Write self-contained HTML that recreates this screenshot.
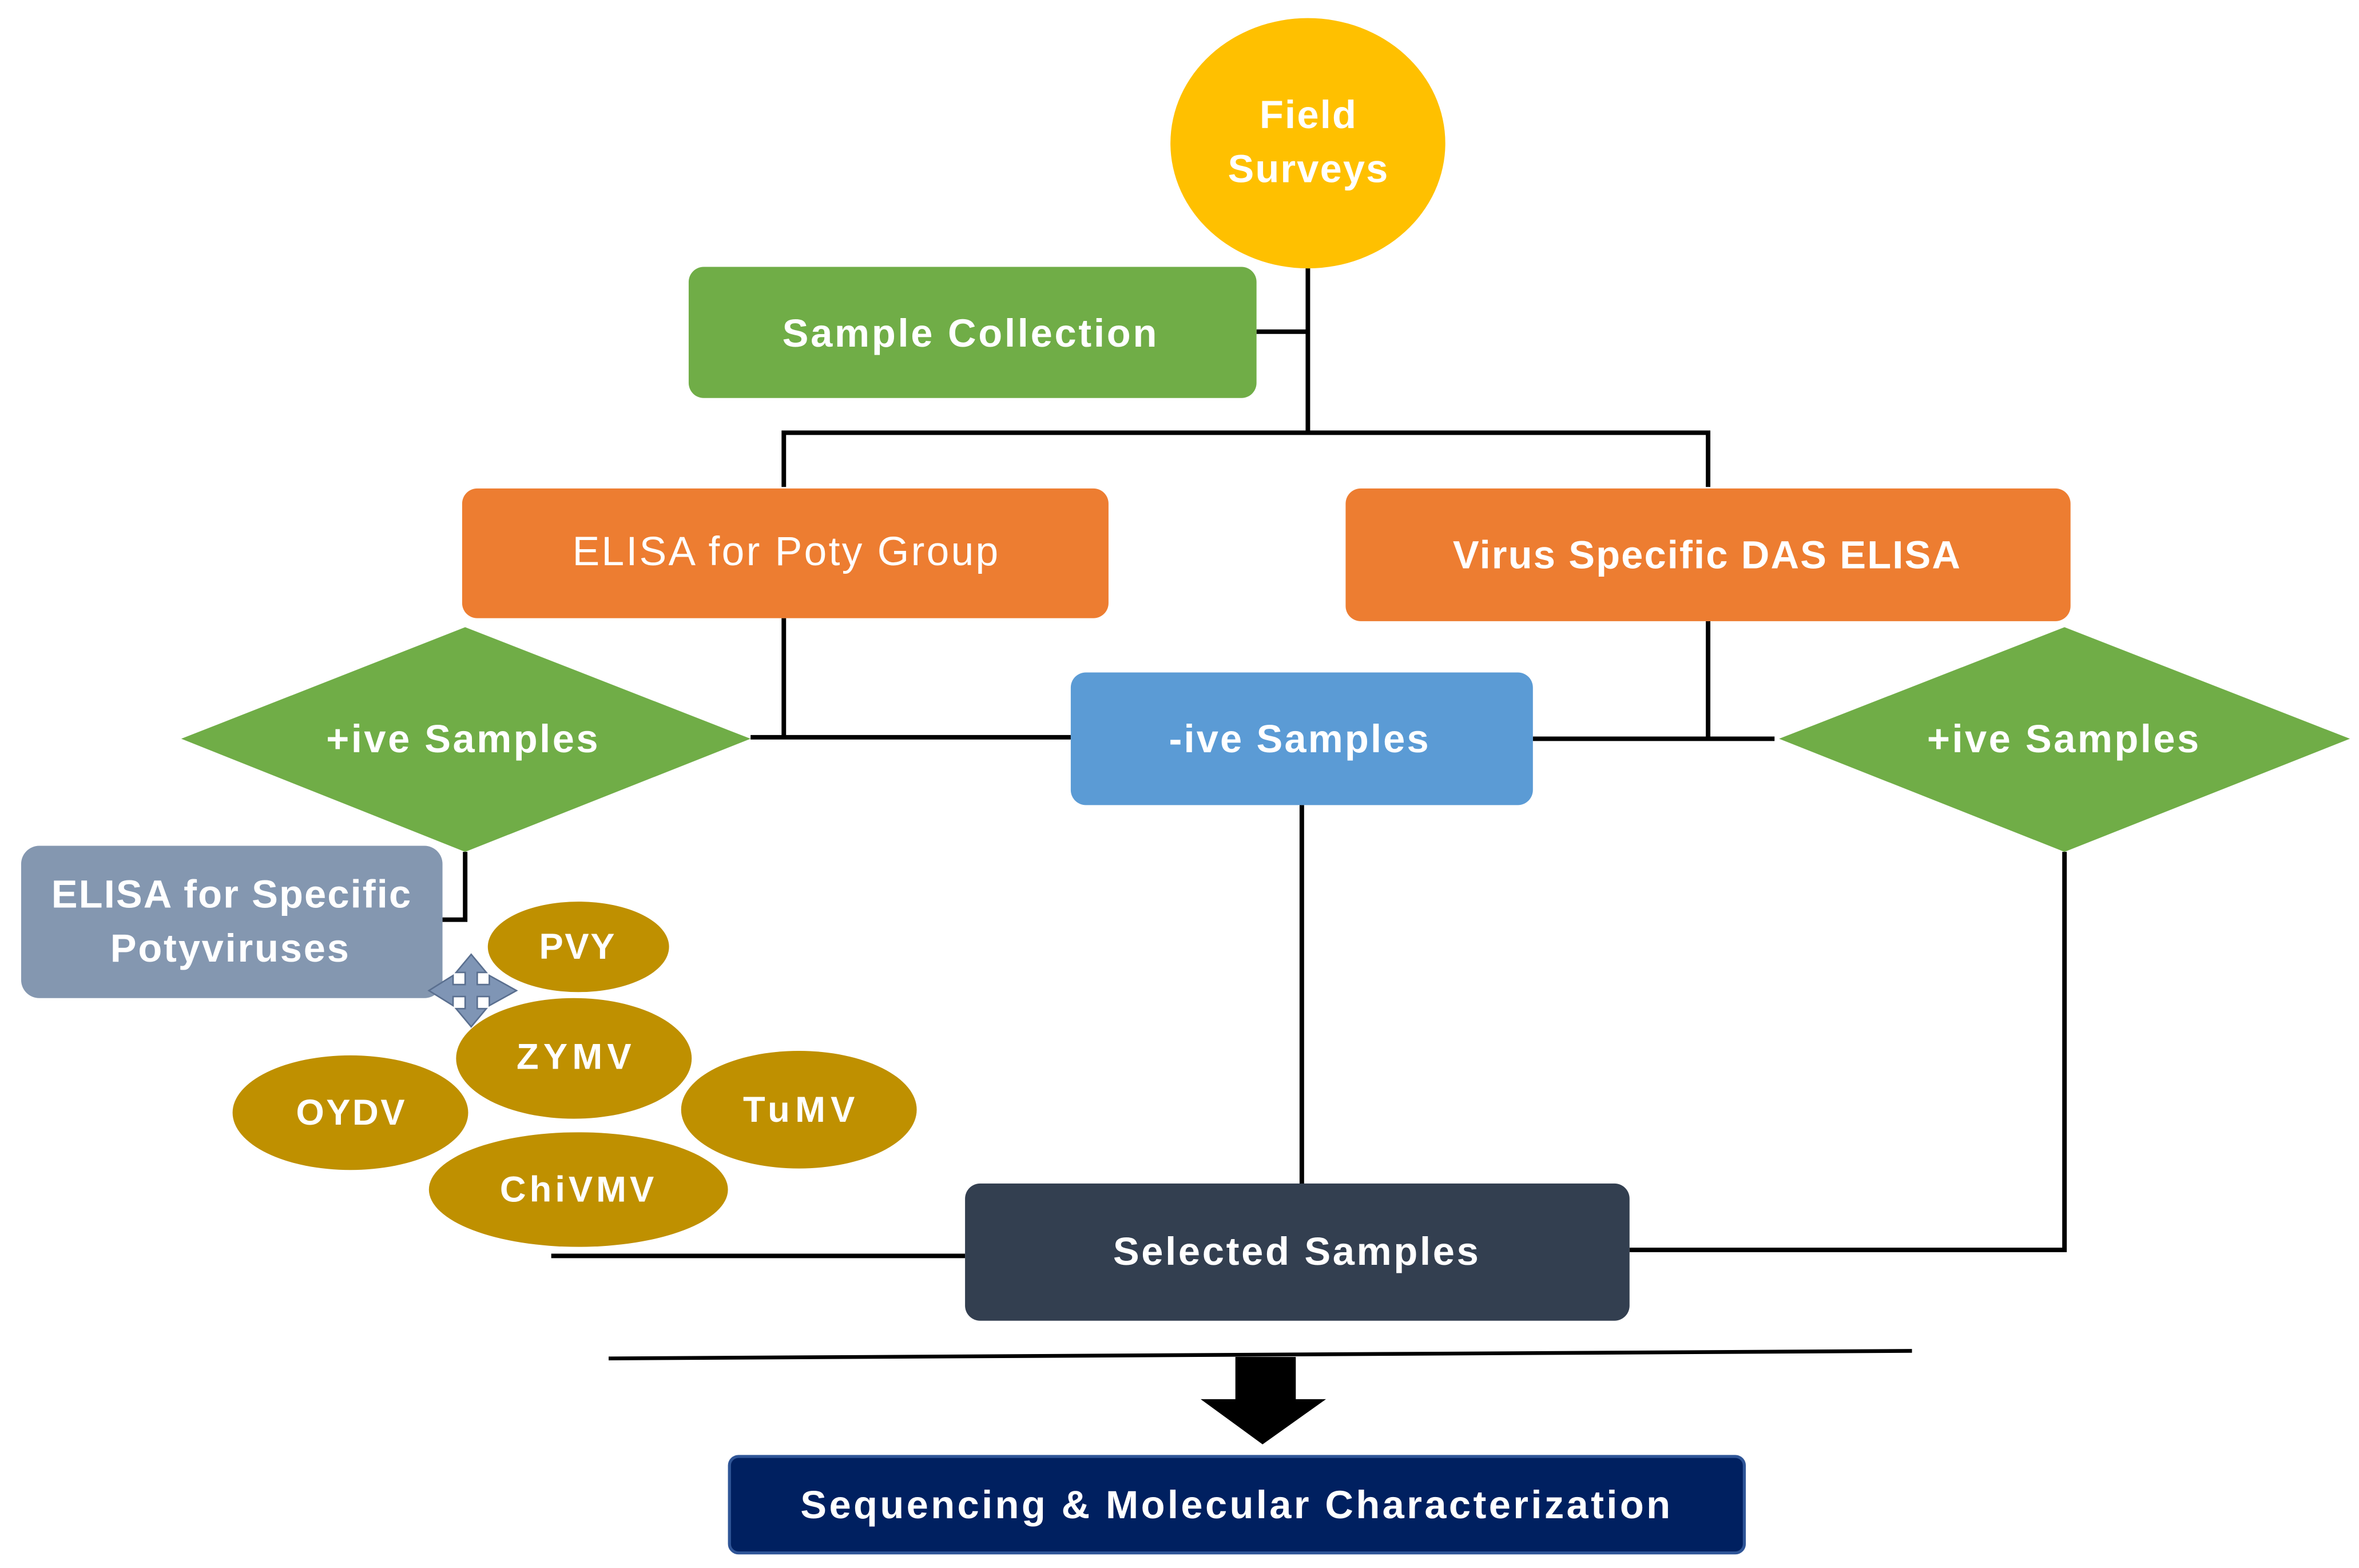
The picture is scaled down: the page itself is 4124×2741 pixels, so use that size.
<!DOCTYPE html>
<html><head><meta charset="utf-8"><style>
html,body{margin:0;padding:0;background:#fff;width:4124px;height:2741px;overflow:hidden}
svg{display:block}
text{font-family:"Liberation Sans",sans-serif;fill:#fff;text-anchor:middle;dominant-baseline:central}
.b{font-weight:bold}
</style></head><body>
<svg width="4124" height="2741" viewBox="0 0 1562 1040" preserveAspectRatio="none" xmlns="http://www.w3.org/2000/svg">
<g stroke="#000" stroke-width="3" fill="none">
<path d="M866 178 V287 M832 220 H866 M519 323 V287 H1131 V323"/>
<path d="M519 410 V489 M497 489 H709"/>
<path d="M1131 412 V490 M1015 490 H1175"/>
<path d="M862 534 V787"/>
<path d="M365 833 H639"/>
<path d="M1079 829 H1367 V565"/>
<path d="M308 565 V610 H293"/>
<path d="M403 901 L1266 896" stroke-width="2.5"/>
</g>
<ellipse cx="866" cy="95" rx="91" ry="83" fill="#FFC000"/>
<text class="b" x="866" y="76" font-size="26" textLength="64">Field</text>
<text class="b" x="866" y="112" font-size="26" textLength="106">Surveys</text>
<rect x="456" y="177" width="376" height="87" rx="10" fill="#70AD47"/>
<text class="b" x="642" y="221" font-size="26" textLength="248">Sample Collection</text>
<rect x="306" y="324" width="428" height="86" rx="10" fill="#ED7D31"/>
<text x="520" y="366" font-size="27" textLength="282">ELISA for Poty Group</text>
<rect x="891" y="324" width="480" height="88" rx="10" fill="#ED7D31"/>
<text class="b" x="1130" y="368" font-size="26" textLength="336">Virus Specific DAS ELISA</text>
<polygon points="120,490 308,416 497,490 308,565" fill="#70AD47"/>
<text class="b" x="306" y="490" font-size="26" textLength="180">+ive Samples</text>
<polygon points="1178,490 1367,416 1556,490 1367,565" fill="#70AD47"/>
<text class="b" x="1366" y="490" font-size="26" textLength="180">+ive Samples</text>
<rect x="709" y="446" width="306" height="88" rx="10" fill="#5B9BD5"/>
<text class="b" x="860" y="490" font-size="26" textLength="172">-ive Samples</text>
<rect x="14" y="561" width="279" height="101" rx="12" fill="#8497B0"/>
<text class="b" x="153" y="593" font-size="26" textLength="238">ELISA for Specific</text>
<text class="b" x="152" y="629" font-size="26" textLength="158">Potyviruses</text>
<g fill="#7F95B5" stroke="#5A6F8F" stroke-width="1">
<path d="M312 633 L322 645 L316 645 L316 653 L324 653 L324 647 L342 657 L324 667 L324 661 L316 661 L316 669 L322 669 L312 681 L302 669 L308 669 L308 661 L300 661 L300 667 L284 657 L300 647 L300 653 L308 653 L308 645 L302 645 Z"/>
</g>
<g fill="#BF9000">
<ellipse cx="383" cy="628" rx="60" ry="30"/>
<ellipse cx="380" cy="702" rx="78" ry="40"/>
<ellipse cx="232" cy="738" rx="78" ry="38"/>
<ellipse cx="529" cy="736" rx="78" ry="39"/>
<ellipse cx="383" cy="789" rx="99" ry="38"/>
</g>
<text class="b" x="382" y="628" font-size="24" textLength="50">PVY</text>
<text class="b" x="380" y="701" font-size="24" textLength="76">ZYMV</text>
<text class="b" x="232" y="738" font-size="24" textLength="72">OYDV</text>
<text class="b" x="529" y="736" font-size="24" textLength="74">TuMV</text>
<text class="b" x="382" y="789" font-size="24" textLength="102">ChiVMV</text>
<rect x="639" y="785" width="440" height="91" rx="10" fill="#333F50"/>
<text class="b" x="858" y="830" font-size="26" textLength="242">Selected Samples</text>
<polygon points="818,900 858,900 858,928 878,928 836,958 795,928 818,928" fill="#000"/>
<rect x="483" y="966" width="672" height="64" rx="6" fill="#002060" stroke="#2F5597" stroke-width="2"/>
<text class="b" x="818" y="998" font-size="26" textLength="576">Sequencing &amp; Molecular Characterization</text>
</svg>
</body></html>
